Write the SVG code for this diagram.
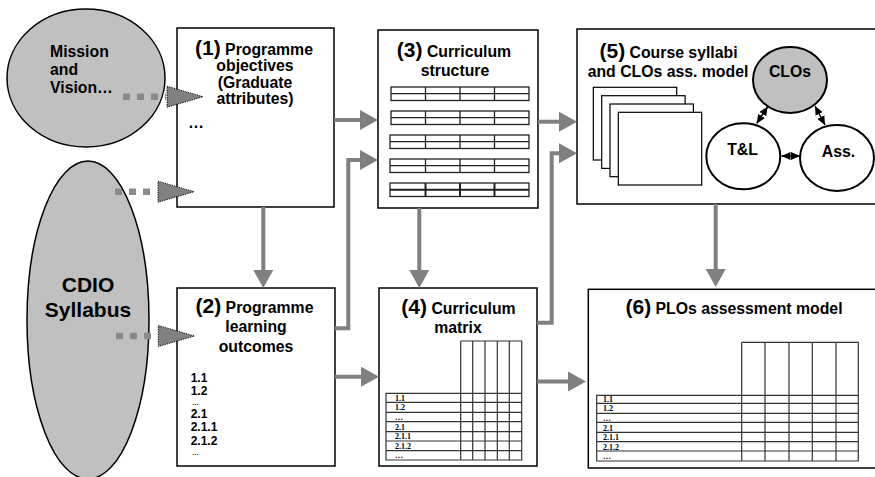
<svg xmlns="http://www.w3.org/2000/svg" width="875" height="477" viewBox="0 0 875 477">
<style>
.box{fill:#fff;stroke:#000;stroke-width:1.5}
.src{fill:#c0c0c0;stroke:#000;stroke-width:1.5}
.t{font-family:"Liberation Sans",Arial,sans-serif;font-weight:bold;font-size:15.8px;fill:#000}
.n{font-size:21px}
.c{text-anchor:middle}
.lst{font-family:"Liberation Sans",Arial,sans-serif;font-weight:bold;font-size:12px;fill:#000}
.el{font-size:7px}
.sm{font-family:"Liberation Serif","Times New Roman",serif;font-weight:bold;font-size:8px;fill:#000}
.grid{fill:none;stroke:#333;stroke-width:1.2}
.strip{fill:#fff;stroke:#222;stroke-width:1.3}
.arr{fill:none;stroke:#808080;stroke-width:4}
.dot{fill:none;stroke:#8a8a8a;stroke-width:6.6;stroke-dasharray:7 7}
.rel{fill:none;stroke:#000;stroke-width:1.5}
.circ{fill:#fff;stroke:#000;stroke-width:2}
</style>
<defs>
<marker id="ah" viewBox="0 0 18 20" refX="2" refY="10" markerWidth="18" markerHeight="20" markerUnits="userSpaceOnUse" orient="auto">
<path d="M0,0 L18,10 L0,20 Z" fill="#808080"/>
</marker>
<marker id="dh" viewBox="-1 -1 38 23" refX="1" refY="10.5" markerWidth="38" markerHeight="23" markerUnits="userSpaceOnUse" orient="auto">
<path d="M0,0 L36,10.5 L0,21 Z" fill="#808080" stroke="#000" stroke-width="1" stroke-dasharray="1.2 1.2"/>
</marker>
<marker id="bh" viewBox="0 0 9 8" refX="9" refY="4" markerWidth="9" markerHeight="8" markerUnits="userSpaceOnUse" orient="auto-start-reverse">
<path d="M0,0 L9,4 L0,8 Z" fill="#000"/>
</marker>
</defs>

<g id="mission">
<ellipse class="src" cx="86" cy="78" rx="79" ry="69"/>
<text class="t" x="50" y="56.5">Mission</text>
<text class="t" x="50" y="74.5">and</text>
<text class="t" x="50" y="92.5">Vision…</text>
</g>

<g id="cdio">
<ellipse class="src" cx="88" cy="320" rx="61" ry="159"/>
<text class="t c" x="88" y="291.5" style="font-size:21px">CDIO</text>
<text class="t c" x="88" y="316.5" style="font-size:21px">Syllabus</text>
</g>

<g id="box1">
<rect class="box" x="177" y="28" width="157" height="179"/>
<text class="t c" x="254" y="54.5"><tspan class="n">(1)</tspan> Programme</text>
<text class="t c" x="255" y="71">objectives</text>
<text class="t c" x="255" y="87.5">(Graduate</text>
<text class="t c" x="255" y="104">attributes)</text>
<text class="t" x="188" y="128" style="font-size:16px">…</text>
</g>

<g id="box2">
<rect class="box" x="177" y="288" width="158" height="178"/>
<text class="t c" x="254.5" y="313"><tspan class="n">(2)</tspan> Programme</text>
<text class="t c" x="256" y="332">learning</text>
<text class="t c" x="256" y="351.5">outcomes</text>
<text class="lst" x="190.7" y="381.5">1.1</text>
<text class="lst" x="190.7" y="395">1.2</text>
<text class="lst el" x="192" y="405">…</text>
<text class="lst" x="190.7" y="417.5">2.1</text>
<text class="lst" x="190.7" y="431">2.1.1</text>
<text class="lst" x="190.7" y="444.5">2.1.2</text>
<text class="lst el" x="192" y="454.5">…</text>
</g>

<g id="box3">
<rect class="box" x="378" y="30" width="160" height="178"/>
<text class="t c" x="454" y="57"><tspan class="n">(3)</tspan> Curriculum</text>
<text class="t c" x="455" y="75.5">structure</text>
<g id="strips">
<g transform="translate(0,87)"><rect class="strip" x="391" y="0" width="138" height="13.5"/><path class="strip" d="M391,6.7H529M425.5,0V13.5M460,0V13.5M494.5,0V13.5"/></g>
<g transform="translate(0,111)"><rect class="strip" x="391" y="0" width="138" height="13.5"/><path class="strip" d="M391,6.7H529M425.5,0V13.5M460,0V13.5M494.5,0V13.5"/></g>
<g transform="translate(0,135)"><rect class="strip" x="390" y="0" width="139" height="13.5"/><path class="strip" d="M390,6.7H529M425.5,0V13.5M460,0V13.5M494.5,0V13.5"/></g>
<g transform="translate(0,159)"><rect class="strip" x="390" y="0" width="139" height="13.5"/><path class="strip" d="M390,6.7H529M425.5,0V13.5M460,0V13.5M494.5,0V13.5"/></g>
<g transform="translate(0,183)"><rect class="strip" x="390" y="0" width="139" height="13.5"/><path class="strip" d="M390,6.7H529M425.5,0V13.5M460,0V13.5M494.5,0V13.5" style="stroke-width:2"/></g>
</g>
</g>

<g id="box4">
<rect class="box" x="379" y="288" width="158" height="178"/>
<text class="t c" x="458.5" y="313.5"><tspan class="n">(4)</tspan> Curriculum</text>
<text class="t c" x="458" y="333">matrix</text>
<path class="grid" d="M460.7,341H521.7V460H386V393.3H521.7M386,402.3H521.7M386,412.3H521.7M386,421.7H521.7M386,431.7H521.7M386,441H521.7M386,450.7H521.7M460.7,341V460M472.7,341V460M485,341V460M497.3,341V460M509.3,341V460"/>
<text class="sm" x="395" y="400.5">1.1</text>
<text class="sm" x="395" y="410">1.2</text>
<text class="sm" x="395" y="419.5">…</text>
<text class="sm" x="395" y="429.5">2.1</text>
<text class="sm" x="395" y="439">2.1.1</text>
<text class="sm" x="395" y="448.5">2.1.2</text>
<text class="sm" x="395" y="458">…</text>
</g>

<g id="box5">
<rect class="box" x="577" y="29" width="320" height="175"/>
<text class="t c" x="668.5" y="57.5"><tspan class="n">(5)</tspan> Course syllabi</text>
<text class="t c" x="668" y="76.5">and CLOs ass. model</text>
<g id="pages">
<rect class="box" x="593.3" y="87.3" width="83.4" height="72.7" style="stroke-width:1.2"/>
<rect class="box" x="601.7" y="95.7" width="83.4" height="72.7" style="stroke-width:1.2"/>
<rect class="box" x="610" y="104" width="83.4" height="72.7" style="stroke-width:1.2"/>
<rect class="box" x="618.3" y="112.3" width="83.4" height="72.7" style="stroke-width:1.2"/>
</g>
<g id="clos">
<ellipse class="circ" cx="790" cy="80" rx="37" ry="33" style="fill:#c0c0c0"/>
<text class="t c" x="790" y="76.5">CLOs</text>
</g>
<g id="tl">
<ellipse class="circ" cx="743.3" cy="156.3" rx="37" ry="33"/>
<text class="t c" x="742.5" y="154.5">T&amp;L</text>
</g>
<g id="ass">
<ellipse class="circ" cx="837" cy="158" rx="37" ry="33"/>
<text class="t c" x="838.5" y="156.5">Ass.</text>
</g>
<g id="relations">
<path class="rel" d="M756.7,123.5L767.7,106.5" marker-start="url(#bh)" marker-end="url(#bh)"/>
<path class="rel" d="M815,106L825,125" marker-start="url(#bh)" marker-end="url(#bh)"/>
<path class="rel" d="M781.5,156H800" marker-start="url(#bh)" marker-end="url(#bh)"/>
</g>
</g>

<g id="box6">
<rect class="box" x="588.3" y="289.3" width="310" height="178.7"/>
<text class="t c" x="734" y="314"><tspan class="n">(6)</tspan> PLOs assessment model</text>
<path class="grid" d="M741.7,342.3H858.3V461H596.7V395.3H858.3M596.7,403.3H858.3M596.7,413.3H858.3M596.7,422.3H858.3M596.7,432.3H858.3M596.7,441.7H858.3M596.7,451H858.3M741.7,342.3V461M765,342.3V461M789,342.3V461M812.3,342.3V461M836,342.3V461"/>
<text class="sm" x="603" y="401.5">1.1</text>
<text class="sm" x="603" y="411">1.2</text>
<text class="sm" x="603" y="420.5">…</text>
<text class="sm" x="603" y="430.5">2.1</text>
<text class="sm" x="603" y="440">2.1.1</text>
<text class="sm" x="603" y="449.5">2.1.2</text>
<text class="sm" x="603" y="459">…</text>
</g>

<g id="connectors">
<path class="dot" d="M123,96.7H166"/>
<path d="M160,96.7H168" fill="none" stroke="none" marker-end="url(#dh)"/>
<path class="dot" d="M115,191.7H157"/>
<path d="M150,191.7H159" fill="none" stroke="none" marker-end="url(#dh)"/>
<path class="dot" d="M116,336H157"/>
<path d="M150,336H159.3" fill="none" stroke="none" marker-end="url(#dh)"/>
<path class="arr" d="M334,120H362" marker-end="url(#ah)"/>
<path class="arr" d="M335,328.3H348.3V160H362" marker-end="url(#ah)"/>
<path class="arr" d="M263.3,207V272" marker-end="url(#ah)"/>
<path class="arr" d="M335,376.7H363" marker-end="url(#ah)"/>
<path class="arr" d="M419.3,208V272" marker-end="url(#ah)"/>
<path class="arr" d="M538,121.7H561" marker-end="url(#ah)"/>
<path class="arr" d="M537,322.7H551.7V153.3H561" marker-end="url(#ah)"/>
<path class="arr" d="M537,381.5H570" marker-end="url(#ah)"/>
<path class="arr" d="M715.7,204V271" marker-end="url(#ah)"/>
</g>
</svg>
